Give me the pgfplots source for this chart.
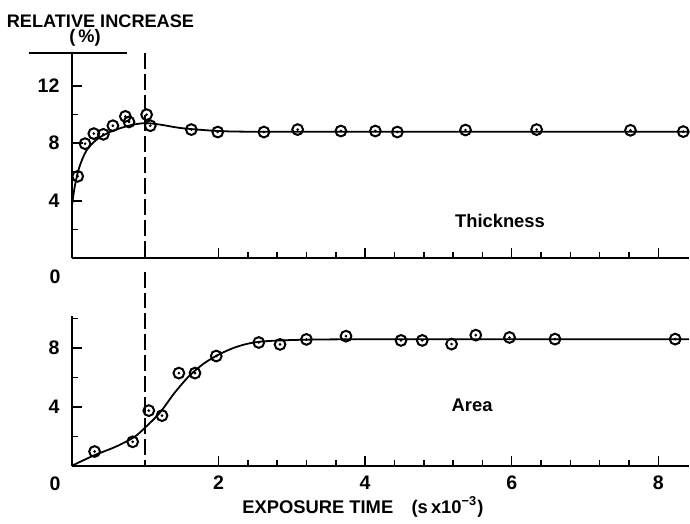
\documentclass[border=0pt]{standalone}
\usepackage{pgfplots}
\pgfplotsset{compat=1.18}
\usepackage{pgfplotstable}
\usepackage{fontspec}
\setmainfont{Liberation Sans}

\pgfplotstableread{
x y
0.08 5.7
0.18 7.97
0.30 8.67
0.43 8.62
0.56 9.22
0.73 9.87
0.78 9.48
1.02 9.99
1.07 9.22
1.63 8.95
1.99 8.78
2.62 8.78
3.08 8.95
3.67 8.85
4.14 8.85
4.44 8.78
5.37 8.92
6.34 8.95
7.62 8.90
8.34 8.81
}\thicktab

\pgfplotstableread{
x y
0.31 0.97
0.83 1.63
1.05 3.75
1.23 3.41
1.46 6.30
1.68 6.30
1.97 7.46
2.55 8.38
2.84 8.25
3.20 8.59
3.74 8.81
4.49 8.52
4.78 8.52
5.18 8.27
5.51 8.88
5.97 8.72
6.59 8.61
8.23 8.61
}\areatab

\pgfplotsset{
  myax/.style={
    x=36.75pt, xmin=0, xmax=8.42,
    axis x line=bottom, axis y line=left,
    axis line style={-, line width=0.9pt},
    tick align=inside,
    xtick={2,4,6,8}, minor x tick num=4,
    major tick length=5pt, minor tick length=3pt,
    every tick/.style={line width=0.8pt, black},
    /pgf/number format/assume math mode=true,
    tick label style={font=\fontsize{9.8}{11}\selectfont\bfseries},
    xticklabel style={yshift=-1.7pt},
    yticklabel style={xshift=-2.7pt},
    clip=false, anchor=origin,
  },
  circ/.style={only marks, mark=o, mark size=2.7pt, mark options={line width=1pt, fill=white}},
  dotm/.style={only marks, mark=*, mark size=0.45pt},
}

\begin{document}
\begin{tikzpicture}
% Top panel: Thickness
\begin{axis}[myax, at={(0,0)}, y=7.21pt, ymin=0, ymax=14.3,
  ytick={4,8,12}, minor ytick={2,6,10}, xticklabels={}]
  \path (axis cs:-0.98,17.96) (axis cs:8.42,17.96);
  \addplot[smooth, line width=0.9pt, tension=0.5] coordinates {
    (0,3.6) (0.04,5.0) (0.1,6.3) (0.2,7.5) (0.35,8.3) (0.55,8.85) (0.8,9.25) (1.0,9.4) (1.2,9.3) (1.5,9.05) (2.0,8.85) (2.5,8.8) (3.5,8.8) (5,8.8) (7,8.8) (8.42,8.8)};
  \draw[line width=0.8pt] (axis cs:0,8) -- (axis cs:0.15,8);
  \draw[line width=0.9pt] (axis cs:-0.585,14.3) -- (axis cs:0.75,14.3);
  \draw[line width=0.7pt, dash pattern=on 8pt off 2.5pt] (axis cs:1,14.3) -- (axis cs:1,0);
  \addplot[circ] table {\thicktab};
  \addplot[dotm] table {\thicktab};
  \node[font=\fontsize{9.1}{11}\selectfont\bfseries] at (axis cs:0.39,16.5) {RELATIVE INCREASE};
  \node[font=\fontsize{9.1}{11}\selectfont\bfseries] at (axis cs:0.18,15.3) {(\,\%)};
  \node[font=\fontsize{9.2}{11}\selectfont\bfseries] at (axis cs:5.84,2.57) {Thickness};
  \node[font=\fontsize{9.8}{11}\selectfont\bfseries] at (axis cs:-0.23,-1.25) {0};
\end{axis}
% Bottom panel: Area
\begin{axis}[myax, at={(0,-104pt)}, y=7.375pt, ymin=0, ymax=10.2,
  ytick={4,8}, minor ytick={2,6,10}]
  \path (axis cs:-0.98,-3.86) (axis cs:8.42,-3.86);
  \addplot[smooth, line width=0.9pt, tension=0.5] coordinates {
    (0,0) (0.3,0.7) (0.6,1.3) (0.85,1.95) (1.0,2.6) (1.2,3.6) (1.4,4.95) (1.6,6.1) (1.8,6.95) (2.0,7.55) (2.2,8.0) (2.4,8.3) (2.6,8.45) (2.9,8.53) (3.3,8.58) (4,8.6) (5.5,8.6) (7,8.6) (8.42,8.6)};
  \draw[line width=0.7pt, dash pattern=on 8pt off 2.5pt] (axis cs:1,13.2) -- (axis cs:1,0);
  \addplot[circ] table {\areatab};
  \addplot[dotm] table {\areatab};
  \node[font=\fontsize{9.2}{11}\selectfont\bfseries] at (axis cs:5.46,4.14) {Area};
  \node[font=\fontsize{9.8}{11}\selectfont\bfseries] at (axis cs:-0.23,-1.22) {0};
  \node[font=\fontsize{9.2}{11}\selectfont\bfseries] at (axis cs:3.97,-2.78) {EXPOSURE TIME\quad(s\,x10\textsuperscript{−3})};
\end{axis}
\end{tikzpicture}
\end{document}
